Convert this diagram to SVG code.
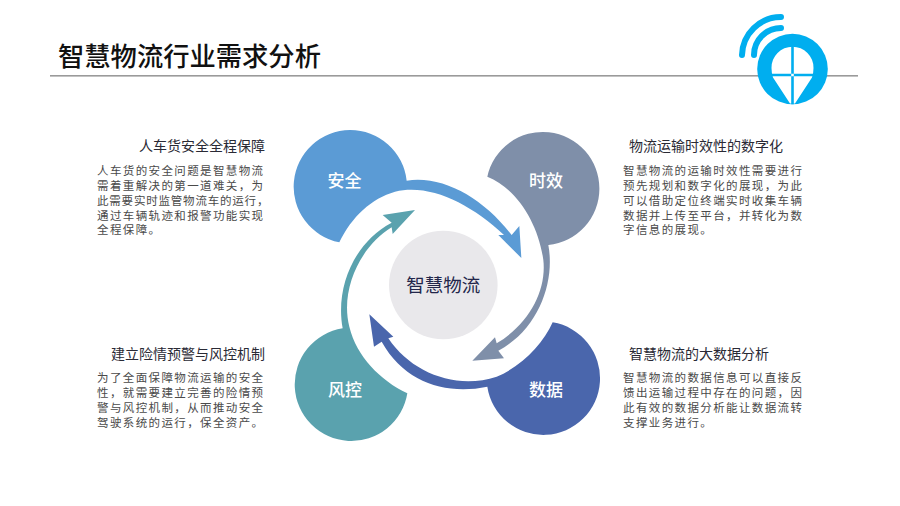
<svg xmlns="http://www.w3.org/2000/svg" width="900" height="506" viewBox="0 0 900 506">
<style>
text{font-family:"Noto Sans CJK SC","Liberation Sans",sans-serif}
.t{font-size:26.300px;font-weight:500;fill:#111}
.h{font-size:14px;fill:#2a2a35}
.b{font-size:11.500px;fill:#4a4a4a;letter-spacing:1.380px}
.n{letter-spacing:.8px}
.l{font-size:17px;font-weight:500;fill:#fff;text-anchor:middle}
.e{text-anchor:end}
</style>
<rect width="900" height="506" fill="#fff"/>
<rect x="50" y="75" width="808" height="1.600" fill="#9a9a9a"/>
<text class="t" x="58" y="66">智慧物流行业需求分析</text>
<g id="logo">
<path d="M742 55A39 39 0 0 1 781 17" fill="none" stroke="#00AEEF" stroke-width="6" stroke-linecap="round"/>
<path d="M754 55A27 27 0 0 1 781 28" fill="none" stroke="#00AEEF" stroke-width="6" stroke-linecap="round"/>
<circle cx="792.500" cy="69" r="35.300" fill="#00AEEF"/>
<path d="M792.500 46.700A21 21 0 0 1 813.500 68Q813.500 73 812 77.500L795 103.500H790L773 77.500Q771.500 73 771.500 68A21 21 0 0 1 792.500 46.700Z" fill="#fff"/>
<path d="M791.200 46V104.300H793.800V46ZM770 73.800H815V76.200H770Z" fill="#00AEEF"/>
</g>
<g id="connectors" transform="translate(280 120) scale(.33333)">
<g id="node-anquan"><path fill="#5B9BD5" d="M380 182A170 170 0 1 0 178 367C215 290 275 235 345 215C450 190 570 250 672 345L655 345L724 414L718 318L695 345C610 235 490 165 380 182Z"/></g>
<g id="node-shixiao"><path fill="#7F8FA9" d="M622 170A170 170 0 1 1 805 375C825 480 780 625 655 692L672 715L577 722L645 652L650 670C750 610 800 510 790 420C775 310 710 205 622 170Z"/></g>
<g id="node-shuju"><path fill="#4A66AC" d="M818 607A170 170 0 1 1 622 800C500 825 375 790 305 665L282 680L268 583L340 650L325 655C395 760 530 810 650 770C725 740 790 670 818 607Z"/></g>
<g id="node-fengkong"><path fill="#5AA2AE" d="M382 820A170 170 0 1 1 188 625C165 500 225 365 335 308L308 285L405 270L338 342L335 322C240 380 180 510 208 620C230 710 300 780 382 820Z"/></g>
</g>
<g id="center">
<circle cx="443.300" cy="285" r="54.300" fill="#E9E8EB"/>
<text x="443.300" y="291.500" text-anchor="middle" font-size="18.500" fill="#22264a">智慧物流</text>
</g>
<text class="l" x="344.500" y="187">安全</text>
<text class="l" x="546" y="187">时效</text>
<text class="l" x="546" y="396">数据</text>
<text class="l" x="345" y="396">风控</text>
<g id="text-tl">
<text class="h e" x="265" y="151">人车货安全全程保障</text>
<text class="b" x="97" y="175">人车货的安全问题是智慧物流</text>
<text class="b" x="97" y="190">需着重解决的第一道难关，为</text>
<text class="b n" x="97" y="205">此需要实时监管物流车的运行，</text>
<text class="b" x="97" y="219.500">通过车辆轨迹和报警功能实现</text>
<text class="b" x="97" y="234">全程保障。</text>
</g>
<g id="text-tr">
<text class="h" x="629" y="151">物流运输时效性的数字化</text>
<text class="b" x="623" y="175">智慧物流的运输时效性需要进行</text>
<text class="b" x="623" y="190">预先规划和数字化的展现，为此</text>
<text class="b" x="623" y="205">可以借助定位终端实时收集车辆</text>
<text class="b" x="623" y="219.500">数据并上传至平台，并转化为数</text>
<text class="b" x="623" y="234">字信息的展现。</text>
</g>
<g id="text-bl">
<text class="h e" x="265" y="359">建立险情预警与风控机制</text>
<text class="b" x="97" y="382">为了全面保障物流运输的安全</text>
<text class="b" x="97" y="397">性，就需要建立完善的险情预</text>
<text class="b" x="97" y="412">警与风控机制，从而推动安全</text>
<text class="b" x="97" y="427">驾驶系统的运行，保全资产。</text>
</g>
<g id="text-br">
<text class="h" x="629" y="359">智慧物流的大数据分析</text>
<text class="b" x="623" y="382">智慧物流的数据信息可以直接反</text>
<text class="b" x="623" y="397">馈出运输过程中存在的问题，因</text>
<text class="b" x="623" y="412">此有效的数据分析能让数据流转</text>
<text class="b" x="623" y="427">支撑业务进行。</text>
</g>
</svg>
